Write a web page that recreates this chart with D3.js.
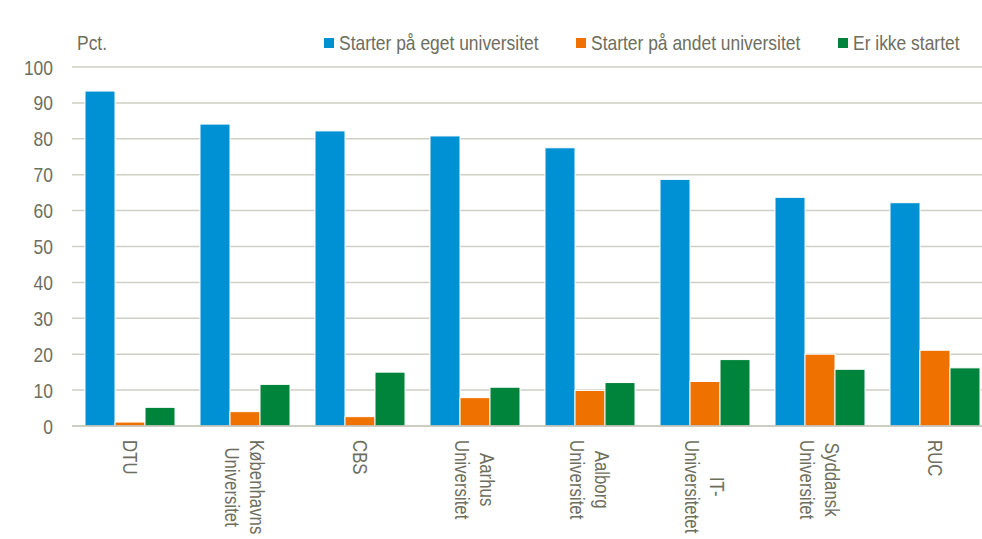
<!DOCTYPE html>
<html>
<head>
<meta charset="utf-8">
<script src="https://cdn.jsdelivr.net/npm/d3@7"></script>
<style>
  html, body { margin: 0; padding: 0; background: #fff; }
  svg { display: block; }
  text { font-family: "Liberation Sans", Arial, sans-serif; fill: #6e6e5e; }
</style>
</head>
<body>
<svg id="chart" width="982" height="539"></svg>
<script>
const categories = ["DTU", "Københavns Universitet", "CBS", "Aarhus Universitet", "Aalborg Universitet", "IT-Universitetet", "Syddansk Universitet", "RUC"];
const categoryLines = [["DTU"], ["Københavns", "Universitet"], ["CBS"], ["Aarhus", "Universitet"], ["Aalborg", "Universitet"], ["IT-", "Universitetet"], ["Syddansk", "Universitet"], ["RUC"]];
const seriesNames = ["Starter på eget universitet", "Starter på andet universitet", "Er ikke startet"];
const egetValues = [93.3, 84.1, 82.2, 80.8, 77.5, 68.7, 63.7, 62.2];
const andetValues = [1.1, 4.0, 2.6, 7.9, 9.9, 12.4, 20.0, 21.1];
const ikkeValues = [5.2, 11.6, 15.0, 10.8, 12.1, 18.5, 15.8, 16.2];
const yTicks = [0, 10, 20, 30, 40, 50, 60, 70, 80, 90, 100];
const colors = ["#0090d4", "#ef7100", "#00843c"];

const seriesValues = [egetValues, andetValues, ikkeValues];
const data = categories.map((c, i) => ({ cat: c, lines: categoryLines[i], vals: seriesValues.map(s => s[i]) }));

const FS = 21, SQUEEZE = 0.83, LABEL_SQUEEZE = 0.8;
function condense(sel) {
  sel.each(function() {
    const L = this.getComputedTextLength();
    this.setAttribute("textLength", L * SQUEEZE);
    this.setAttribute("lengthAdjust", "spacingAndGlyphs");
  });
}

const svg = d3.select("#chart");
const plotLeft = 72.5, plotRight = 992.5, plotTop = 67, plotBottom = 426;

const y = d3.scaleLinear().domain([0, 100]).range([plotBottom, plotTop]);
const x0 = d3.scaleBand().domain(categories).range([plotLeft, plotRight]).paddingInner(25 / 115).paddingOuter(12.5 / 115);
const x1 = d3.scaleBand().domain(d3.range(3)).range([0, x0.bandwidth()]);

// gridlines
svg.append("g").selectAll("line").data(yTicks.filter(t => t > 0)).join("line")
  .attr("x1", 72).attr("x2", 982)
  .attr("y1", d => y(d)).attr("y2", d => y(d))
  .attr("stroke", "#cfcfc5").attr("stroke-width", 1.5);

// y labels
svg.append("g").selectAll("text").data(yTicks).join("text")
  .attr("x", 53).attr("y", d => y(d))
  .attr("text-anchor", "end").attr("dominant-baseline", "central")
  .attr("font-size", FS).text(d => d)
  .call(condense);

// bars
const groups = svg.append("g").selectAll("g").data(data).join("g")
  .attr("transform", d => `translate(${x0(d.cat)},0)`);
groups.selectAll("rect").data(d => d.vals.map((v, k) => ({ v, k }))).join("rect")
  .attr("x", d => x1(d.k)).attr("width", x1.bandwidth())
  .attr("y", d => y(d.v)).attr("height", d => y(0) - y(d.v))
  .attr("fill", d => colors[d.k])
  .attr("stroke", "#ffffff").attr("stroke-width", 1);

// baseline
svg.append("line").attr("x1", 72).attr("x2", 982).attr("y1", y(0)).attr("y2", y(0))
  .attr("stroke", "#bdbdb0").attr("stroke-width", 1.5);

// x labels rotated
const lblG = svg.append("g").selectAll("g").data(data).join("g")
  .attr("transform", d => `translate(${x0(d.cat) + x0.bandwidth() / 2},440) rotate(90)`);
lblG.each(function(d) {
  const g = d3.select(this);
  const n = d.lines.length;
  const texts = d.lines.map((ln, i) => g.append("text")
    .attr("font-size", FS)
    .attr("dominant-baseline", "central")
    .attr("text-anchor", "middle")
    .attr("y", (i - (n - 1) / 2) * 25)
    .text(ln));
  const lens = texts.map(t => t.node().getComputedTextLength() * LABEL_SQUEEZE);
  const maxLen = d3.max(lens);
  texts.forEach((t, i) => t.attr("x", maxLen / 2)
    .attr("textLength", lens[i]).attr("lengthAdjust", "spacingAndGlyphs"));
});

// Pct.
svg.append("text").attr("x", 77).attr("y", 50).attr("font-size", FS).text("Pct.").call(condense);

// legend
const legendX = [324, 576, 838];
const leg = svg.append("g").selectAll("g").data(seriesNames).join("g")
  .attr("transform", (d, i) => `translate(${legendX[i]},0)`);
leg.append("rect").attr("x", 0).attr("y", 38).attr("width", 10).attr("height", 10)
  .attr("fill", (d, i) => colors[i]);
leg.append("text").attr("x", 15).attr("y", 50).attr("font-size", FS).text(d => d).call(condense);
</script>
</body>
</html>
